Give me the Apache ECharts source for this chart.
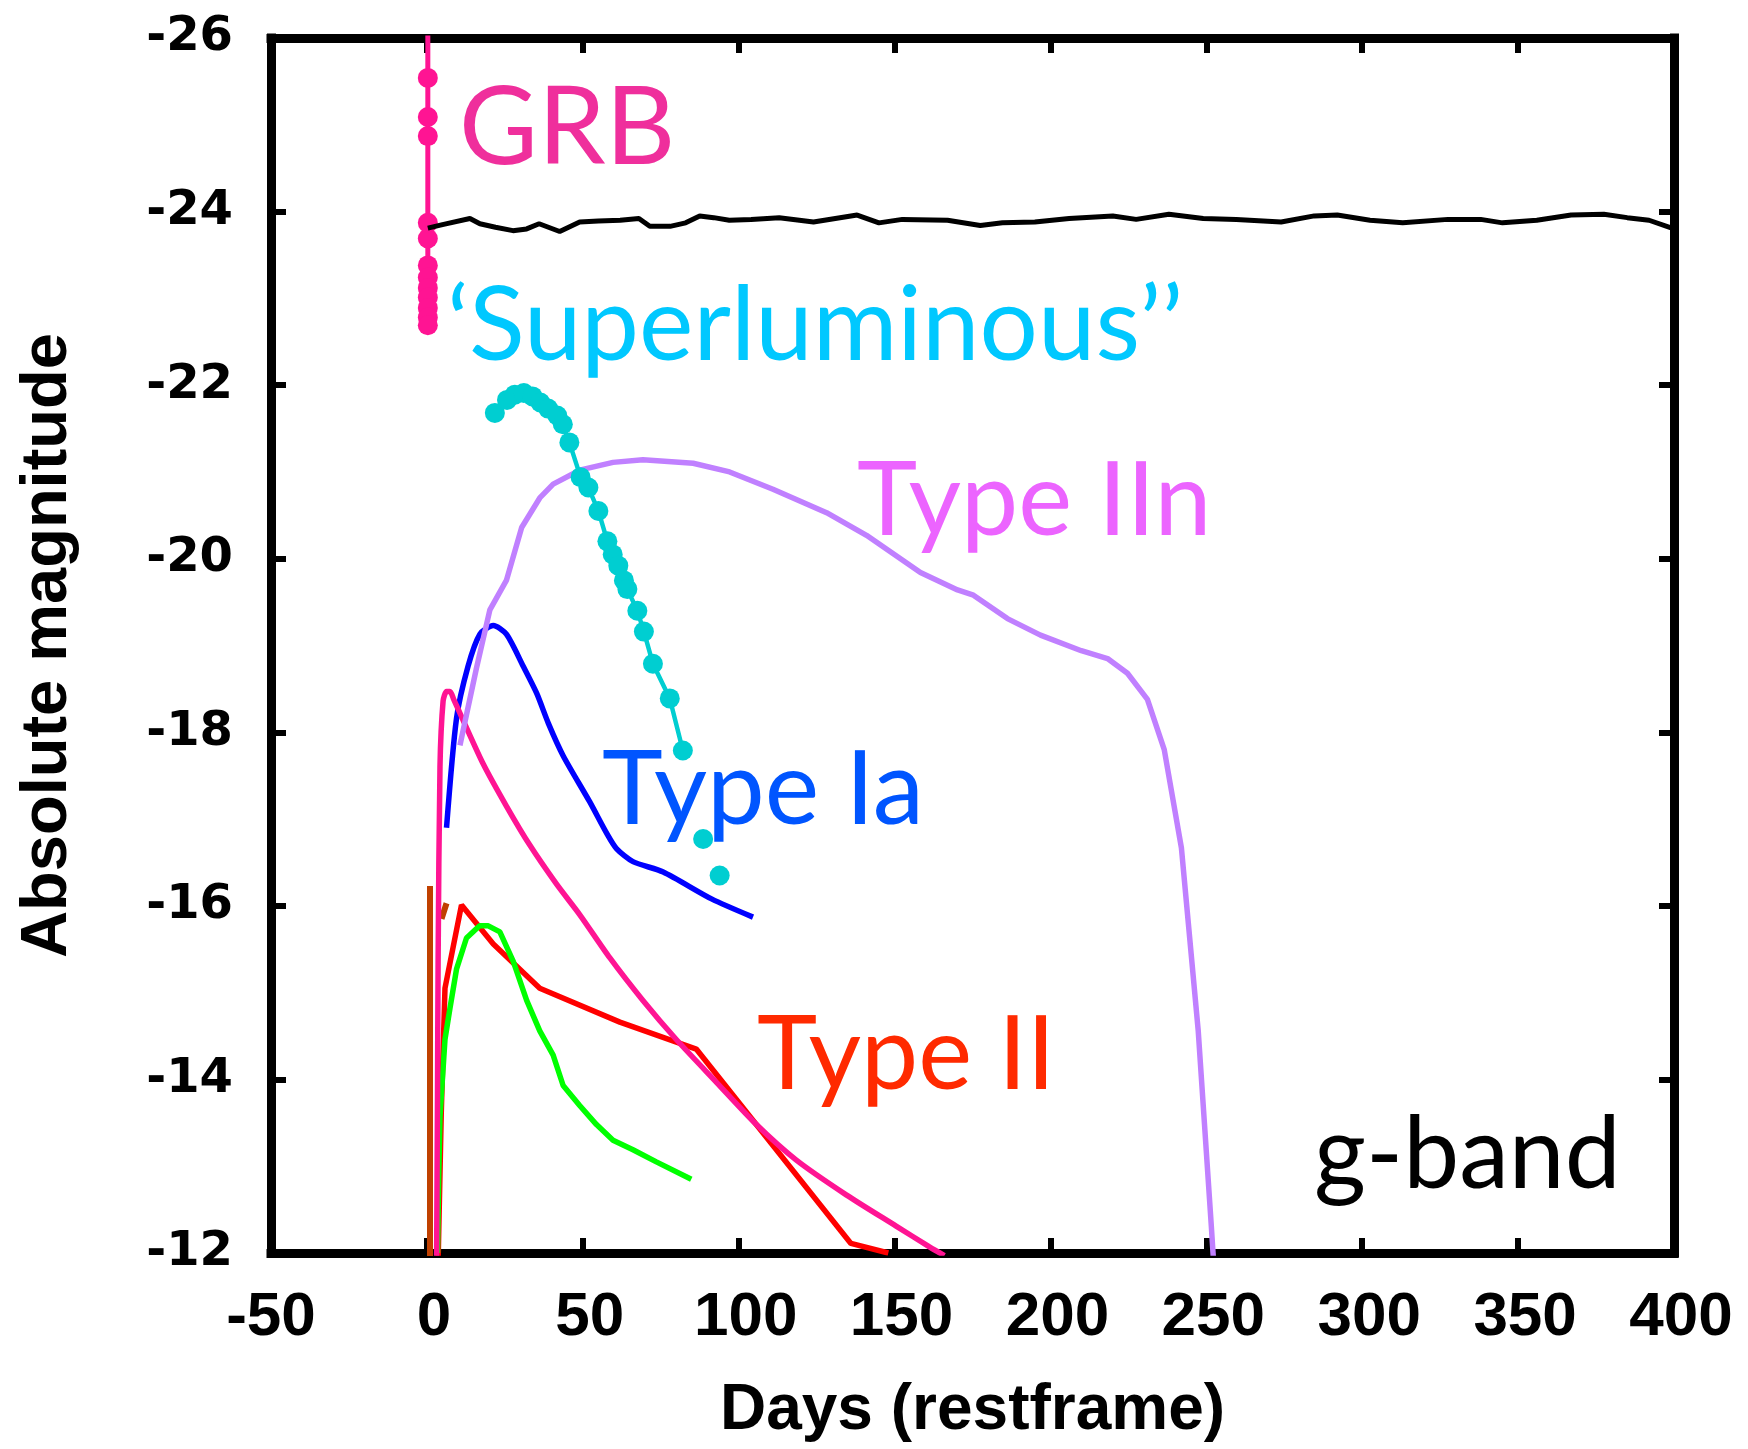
<!DOCTYPE html>
<html>
<head>
<meta charset="utf-8">
<title>g-band light curves</title>
<script src="https://cdn.jsdelivr.net/npm/echarts@6/dist/echarts.min.js"></script>
<style>
  html, body { margin: 0; padding: 0; background: #ffffff; }
  #chart { width: 1748px; height: 1449px; }
</style>
</head>
<body>
<div id="chart"></div>
<script>
// Light curves: [days since explosion (rest frame), absolute magnitude]
const flatCurve = [
  [0.3, -23.81], [5, -23.85], [13.8, -23.92], [17, -23.86], [22, -23.82], [27.6, -23.78],
  [32, -23.80], [36, -23.86], [42.6, -23.77], [49, -23.88], [55, -23.89], [62, -23.90],
  [68, -23.92], [71.5, -23.83], [78, -23.83], [83, -23.87], [87.5, -23.95], [92, -23.93],
  [97, -23.90], [104, -23.91], [113, -23.93], [124, -23.88], [138, -23.96], [145, -23.87],
  [152.5, -23.91], [167, -23.90], [177.5, -23.84], [184.6, -23.87], [195, -23.88],
  [206, -23.92], [220, -23.95], [227.5, -23.91], [238, -23.97], [249, -23.92],
  [259.6, -23.91], [274, -23.88], [284.6, -23.95], [292, -23.96], [302.5, -23.90],
  [313, -23.87], [327.5, -23.91], [338, -23.91], [345, -23.87], [356, -23.90],
  [367, -23.96], [377.5, -23.97], [385, -23.93], [392, -23.90], [400, -23.80]
];

const grbTrack = [[0.3, -26.6], [0.3, -22.69]];
const grbPoints = [
  [0.3, -25.54], [0.3, -25.09], [0.3, -24.87], [0.3, -23.87], [0.3, -23.69],
  [0.3, -23.38], [0.3, -23.24], [0.3, -23.12], [0.3, -23.01], [0.3, -22.89],
  [0.3, -22.78], [0.3, -22.69]
];

const superluminousLinked = [
  [21.8, -21.68], [25.7, -21.83], [28.2, -21.89], [31.1, -21.91], [33.9, -21.87],
  [36.4, -21.80], [38.9, -21.73], [41.8, -21.65], [43.6, -21.55], [45.7, -21.34],
  [49.3, -20.94], [51.8, -20.82], [55.0, -20.55], [57.9, -20.20], [59.6, -20.05],
  [61.4, -19.92], [63.2, -19.75], [64.3, -19.65], [67.5, -19.40], [69.6, -19.16],
  [72.5, -18.79], [77.9, -18.39], [82.1, -17.79]
];
const superluminousLate = [[88.6, -16.77], [93.9, -16.35]];

const typeIIn = [
  [10.6, -17.85], [15.9, -18.74], [20.2, -19.41], [25.5, -19.75], [30.4, -20.36],
  [36.2, -20.70], [40.5, -20.86], [49, -21.02], [59.7, -21.11], [69.3, -21.14],
  [85.4, -21.10], [97.1, -21.00], [111, -20.80], [128.2, -20.53], [141, -20.27],
  [158.3, -19.84], [170.2, -19.64], [175.3, -19.58], [186.2, -19.31], [196.8, -19.12],
  [209.9, -18.94], [218.3, -18.85], [224.7, -18.68], [231.1, -18.38], [236.5, -17.80],
  [242, -16.67], [247.4, -14.56], [251.6, -12.31], [252.5, -11.80]
];

const typeIa = [
  [6.3, -16.90], [9.5, -18.16], [13.2, -18.76], [17, -19.13], [21.3, -19.23],
  [25.5, -19.13], [30.9, -18.76], [35.2, -18.45], [39, -18.10], [43.7, -17.73],
  [52.2, -17.20], [57.6, -16.84], [60.8, -16.66], [66.1, -16.51], [75.8, -16.39],
  [91.3, -16.08], [104.6, -15.87]
];

const pinkCurve = [
  [3.1, -11.8], [3.4, -13.8], [3.6, -15.36], [4.2, -17.60], [5.2, -18.36], [6.3, -18.47],
  [7.4, -18.47], [8.6, -18.38], [11.6, -18.14], [18.0, -17.64], [25.5, -17.15],
  [33.0, -16.70], [41.6, -16.25], [49.0, -15.90], [58.7, -15.40], [69.3, -14.91],
  [80.0, -14.46], [92.8, -13.97], [105.7, -13.48], [118.5, -13.07], [134.5, -12.67],
  [150.5, -12.31], [161.2, -12.07], [166, -11.97]
];

const typeII = [
  [3.6, -11.9], [4.6, -13.6], [5.8, -15.05], [11.1, -16.01], [21.3, -15.56],
  [36.2, -15.05], [61.9, -14.66], [86.4, -14.35], [136, -12.11], [148, -12.0]
];

const greenCurve = [
  [3.4, -12.0], [3.8, -12.9], [4.2, -13.57], [5.8, -14.46], [7.4, -14.82], [9.5, -15.27],
  [12.7, -15.63], [16.9, -15.77], [19.7, -15.77], [23.4, -15.70], [27.7, -15.36],
  [32, -14.91], [36.2, -14.56], [40.5, -14.28], [43.7, -13.93], [49, -13.70],
  [54.4, -13.48], [59.7, -13.30], [66.1, -13.19], [73.6, -13.05], [84.8, -12.85]
];

const brownCurve = [
  [1.0, -11.8], [1.0, -16.23], null, [4.7, -15.85], [6.3, -16.03]
];

// Axis ranges and tick steps
const xRange = [-50, 400];
const xStep = 50;
const yRange = [-26, -12];
const yStep = 2;

// Curve labels: text, colour, left edge and baseline in page pixels
const curveLabels = [
  { text: 'GRB', color: '#ef2f9c', x: 459, base: 162, size: 108 },
  { text: '\u2018Superluminous\u2019\u2019', color: '#00c8ff', x: 447, base: 359, size: 103 },
  { text: 'Type IIn', color: '#ec64ff', x: 857, base: 533, size: 102 },
  { text: 'Type Ia', color: '#0055ff', x: 602, base: 823, size: 103 },
  { text: 'Type II', color: '#ff2a00', x: 757, base: 1087, size: 102 },
  { text: 'g-band', color: '#000000', x: 1314, base: 1187, size: 100 }
];

const labelFont = 'Lato, "Open Sans", sans-serif';

const chart = echarts.init(document.getElementById('chart'), null, { renderer: 'canvas' });

const frameLine = { color: '#000', width: 9, cap: 'square' };
const innerTick = { show: true, inside: true, length: 15, lineStyle: { color: '#000', width: 6 } };

function line(name, data, color, width, z, extra) {
  return Object.assign({
    name, type: 'line', data, z,
    showSymbol: false, symbol: 'none',
    connectNulls: false, clip: true,
    lineStyle: { color, width },
    emphasis: { disabled: true }
  }, extra || {});
}

function dots(name, data, color, z) {
  return {
    name, type: 'scatter', data, z,
    symbol: 'circle', symbolSize: 20, clip: true,
    itemStyle: { color, opacity: 1 },
    emphasis: { disabled: true }
  };
}

const option = {
  animation: false,
  backgroundColor: '#ffffff',
  grid: { left: 271, top: 38, width: 1403, height: 1215, containLabel: false, outerBoundsMode: 'none' },
  xAxis: [
    {
      type: 'value', position: 'bottom', min: xRange[0], max: xRange[1], interval: xStep,
      name: 'Days (restframe)', nameLocation: 'middle', nameGap: 126,
      nameTextStyle: { fontFamily: '"Liberation Sans", Arial, sans-serif', fontWeight: 'bold', fontSize: 64, color: '#000' },
      axisLine: { show: true, onZero: false, lineStyle: frameLine },
      axisTick: innerTick,
      axisLabel: {
        margin: 34, color: '#000', fontWeight: 'bold', fontSize: 62,
        fontFamily: '"Liberation Sans", Arial, sans-serif',
        formatter: v => (v < 0 ? '{n|' + v + '}' : '{p|' + v + '}'),
        rich: {
          n: { fontWeight: 'bold', fontSize: 62, fontFamily: '"Liberation Sans", Arial, sans-serif', color: '#000' },
          p: { fontWeight: 'bold', fontSize: 62, fontFamily: '"Liberation Sans", Arial, sans-serif', color: '#000', padding: [0, 0, 0, 14] }
        }
      },
      splitLine: { show: false }
    },
    {
      type: 'value', position: 'top', min: xRange[0], max: xRange[1], interval: xStep,
      axisLine: { show: true, onZero: false, lineStyle: frameLine },
      axisTick: innerTick,
      axisLabel: { show: false },
      splitLine: { show: false }
    }
  ],
  yAxis: [
    {
      type: 'value', position: 'left', inverse: true, min: yRange[0], max: yRange[1], interval: yStep,
      name: 'Absolute magnitude', nameLocation: 'middle', nameGap: 190, nameRotate: 90,
      nameTextStyle: { fontFamily: '"Liberation Sans", Arial, sans-serif', fontWeight: 'bold', fontSize: 65, color: '#000' },
      axisLine: { show: true, onZero: false, lineStyle: frameLine },
      axisTick: innerTick,
      axisLabel: {
        margin: 38, color: '#000', fontWeight: 'bold', fontSize: 48,
        fontFamily: '"DejaVu Sans", sans-serif'
      },
      splitLine: { show: false }
    },
    {
      type: 'value', position: 'right', inverse: true, min: yRange[0], max: yRange[1], interval: yStep,
      axisLine: { show: true, onZero: false, lineStyle: frameLine },
      axisTick: innerTick,
      axisLabel: { show: false },
      splitLine: { show: false }
    }
  ],
  series: [
    line('brown', brownCurve, '#c04000', 6, 2),
    line('Type II', typeII, '#ff0000', 5.5, 3),
    line('green', greenCurve, '#00ff00', 5.5, 4),
    line('Type Ia', typeIa, '#0000ff', 5.5, 5, { smooth: 0.25 }),
    line('pink', pinkCurve, '#ff1493', 5.5, 6, { smooth: 0.25 }),
    line('Type IIn', typeIIn, '#c080ff', 5.5, 7),
    line('Superluminous', superluminousLinked, '#00ced1', 4.5, 8),
    dots('Superluminous points', superluminousLinked.concat(superluminousLate), '#00ced1', 9),
    line('GRB', grbTrack, '#ff1493', 5, 10),
    dots('GRB points', grbPoints, '#ff1493', 11),
    line('flat', flatCurve, '#000000', 5, 12)
  ],
  graphic: curveLabels.map(l => ({
    type: 'text',
    z: 100,
    style: {
      text: l.text,
      x: l.x,
      y: l.base - Math.round(l.size * 0.307),
      fill: l.color,
      fontSize: l.size,
      fontFamily: labelFont,
      textAlign: 'left',
      verticalAlign: 'middle'
    }
  }))
};

chart.setOption(option);
</script>
</body>
</html>
